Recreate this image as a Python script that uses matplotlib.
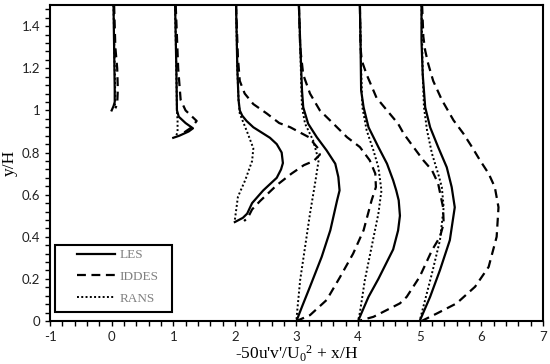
import matplotlib
matplotlib.use("Agg")
import matplotlib.pyplot as plt
from matplotlib.ticker import MultipleLocator, FuncFormatter
from matplotlib.patches import Rectangle

plt.rcParams['mathtext.fontset'] = 'custom'
plt.rcParams['mathtext.rm'] = 'Liberation Serif'
plt.rcParams['mathtext.it'] = 'Liberation Serif'

stations = [0, 1, 2, 3, 4, 5]

# LES profiles: y/H and -50u'v'/U0^2 per station
les_y = [
    [1.5, 1.3, 1.1, 1.04, 1.02, 1.0],
    [1.5, 1.2, 1.0, 0.97, 0.94, 0.915, 0.90, 0.88, 0.87],
    [1.5, 1.2, 1.05, 1.0, 0.975, 0.95, 0.92, 0.87, 0.84, 0.80, 0.75, 0.72, 0.68, 0.62, 0.56, 0.51, 0.49, 0.47],
    [1.5, 1.33, 1.095, 1.015, 0.937, 0.873, 0.81, 0.747, 0.684, 0.62, 0.573, 0.431, 0.305, 0.163, 0.068, 0.0],
    [1.5, 1.33, 1.095, 1.015, 0.92, 0.826, 0.747, 0.668, 0.62, 0.573, 0.50, 0.43, 0.34, 0.20, 0.115, 0.0],
    [1.5, 1.33, 1.17, 1.015, 0.92, 0.826, 0.73, 0.636, 0.54, 0.384, 0.242, 0.115, 0.02, 0.0],
]
les_v = [
    [0.03, 0.04, 0.05, 0.05, 0.03, 0.0],
    [0.03, 0.05, 0.06, 0.09, 0.2, 0.32, 0.25, 0.1, 0.0],
    [0.02, 0.04, 0.06, 0.08, 0.12, 0.19, 0.30, 0.57, 0.68, 0.76, 0.78, 0.75, 0.68, 0.46, 0.28, 0.2, 0.13, 0.0],
    [0.04, 0.06, 0.09, 0.11, 0.19, 0.33, 0.49, 0.63, 0.68, 0.70, 0.66, 0.55, 0.41, 0.22, 0.09, 0.0],
    [0.03, 0.04, 0.05, 0.09, 0.17, 0.33, 0.47, 0.57, 0.62, 0.66, 0.68, 0.65, 0.57, 0.33, 0.17, 0.0],
    [0.03, 0.03, 0.05, 0.09, 0.17, 0.30, 0.44, 0.52, 0.57, 0.49, 0.33, 0.17, 0.03, 0.0],
]

iddes_y = [
    [1.5, 1.3, 1.2, 1.1, 1.03, 1.01],
    [1.5, 1.2, 1.05, 1.0, 0.95, 0.92, 0.89],
    [1.5, 1.25, 1.14, 1.08, 1.03, 0.985, 0.94, 0.92, 0.873, 0.82, 0.79, 0.76, 0.74, 0.70, 0.645, 0.57, 0.53, 0.49, 0.475],
    [1.5, 1.3, 1.17, 1.08, 1.0, 0.937, 0.873, 0.826, 0.763, 0.70, 0.636, 0.573, 0.431, 0.32, 0.21, 0.10, 0.028, 0.0],
    [1.5, 1.3, 1.237, 1.17, 1.06, 1.0, 0.937, 0.89, 0.826, 0.763, 0.716, 0.653, 0.54, 0.463, 0.40, 0.336, 0.21, 0.115, 0.084, 0.02, 0.0],
    [1.5, 1.35, 1.284, 1.22, 1.14, 1.05, 0.953, 0.89, 0.826, 0.763, 0.70, 0.636, 0.54, 0.40, 0.257, 0.163, 0.084, 0.036, 0.0],
]
iddes_v = [
    [0.04, 0.06, 0.09, 0.1, 0.09, 0.06],
    [0.04, 0.08, 0.12, 0.2, 0.38, 0.3, 0.15],
    [0.02, 0.05, 0.08, 0.16, 0.3, 0.52, 0.72, 0.90, 1.20, 1.35, 1.38, 1.28, 1.12, 0.92, 0.68, 0.41, 0.28, 0.21, 0.15],
    [0.04, 0.06, 0.11, 0.22, 0.38, 0.60, 0.82, 1.03, 1.19, 1.28, 1.29, 1.22, 1.09, 0.92, 0.71, 0.49, 0.22, 0.0],
    [0.03, 0.04, 0.06, 0.14, 0.30, 0.47, 0.65, 0.74, 0.90, 1.06, 1.20, 1.30, 1.38, 1.39, 1.33, 1.20, 1.0, 0.79, 0.68, 0.25, 0.0],
    [0.04, 0.06, 0.09, 0.14, 0.22, 0.36, 0.55, 0.71, 0.85, 0.98, 1.12, 1.22, 1.28, 1.25, 1.12, 0.90, 0.60, 0.28, 0.03],
]

rans_y = [
    [1.5, 1.2, 1.05, 1.02],
    [1.5, 1.2, 1.0, 0.95, 0.9, 0.88],
    [1.5, 1.2, 1.05, 0.985, 0.89, 0.82, 0.76, 0.67, 0.59, 0.48],
    [1.5, 1.33, 1.095, 1.015, 0.937, 0.858, 0.763, 0.668, 0.51, 0.352, 0.194, 0.04, 0.0],
    [1.5, 1.2, 1.015, 0.905, 0.81, 0.73, 0.62, 0.51, 0.352, 0.194, 0.04, 0.0],
    [1.5, 1.17, 1.015, 0.905, 0.795, 0.70, 0.636, 0.54, 0.384, 0.226, 0.068, 0.0],
]
rans_v = [
    [0.03, 0.05, 0.06, 0.05],
    [0.03, 0.05, 0.06, 0.07, 0.07, 0.05],
    [0.02, 0.04, 0.06, 0.08, 0.21, 0.3, 0.28, 0.17, 0.05, 0.0],
    [0.04, 0.06, 0.08, 0.09, 0.14, 0.27, 0.36, 0.31, 0.22, 0.14, 0.06, 0.01, 0.0],
    [0.03, 0.05, 0.07, 0.14, 0.25, 0.33, 0.38, 0.33, 0.22, 0.11, 0.03, 0.0],
    [0.03, 0.05, 0.07, 0.12, 0.20, 0.30, 0.36, 0.39, 0.33, 0.20, 0.06, 0.0],
]

legend_labels = ["LES", "IDDES", "RANS"]

fig = plt.figure(figsize=(5.5, 3.64), dpi=100)
ax = fig.add_axes([0.091, 0.118, 0.896, 0.868])

styles = [
    dict(color='black', lw=1.6, linestyle='-'),
    dict(color='black', lw=1.6, linestyle=(0, (4, 2.5))),
    dict(color='black', lw=1.4, linestyle=(0, (1, 1.2))),
]
for k, (ys, vs) in enumerate([(les_y, les_v), (iddes_y, iddes_v), (rans_y, rans_v)]):
    for i, st in enumerate(stations):
        ax.plot([st + v for v in vs[i]], ys[i],
                label=legend_labels[k] if i == 0 else None,
                solid_joinstyle='round', dash_joinstyle='round', **styles[k])

ax.set_xlim(-1, 7)
ax.set_ylim(0, 1.5)
ax.xaxis.set_major_locator(MultipleLocator(1))
ax.xaxis.set_minor_locator(MultipleLocator(0.2))
ax.yaxis.set_major_locator(MultipleLocator(0.2))
ax.yaxis.set_minor_locator(MultipleLocator(0.04))
ax.yaxis.set_major_formatter(FuncFormatter(lambda v, p: ('%g' % round(v, 2))))
ax.xaxis.set_major_formatter(FuncFormatter(lambda v, p: ('%g' % round(v, 2))))

for sp in ax.spines.values():
    sp.set_linewidth(1.5)
ax.tick_params(which='both', direction='out', width=1.0, length=3.5,
               labelsize=9.5, colors='black', labelcolor='#222222')
for lab in ax.get_xticklabels() + ax.get_yticklabels():
    lab.set_fontfamily('Lato')

ax.set_xlabel("-50u'v'/U$_0$$^2$ + x/H", fontsize=12.5, family='Liberation Serif', labelpad=1)
ax.set_ylabel("y/H", fontsize=12.5, family='Liberation Serif', labelpad=3)

# legend frame
ax.add_patch(Rectangle((0.010, 0.0285), 0.2375, 0.212, transform=ax.transAxes,
                       facecolor='white', edgecolor='black', lw=1.5, zorder=5))
leg = ax.legend(loc='upper left', bbox_to_anchor=(0.055, 0.228), frameon=False,
                handlelength=2.9, handletextpad=0.3, borderpad=0.0,
                borderaxespad=0.0, labelspacing=0.72,
                prop={'family': 'Liberation Serif', 'size': 9.5})
leg.set_zorder(6)
for t in leg.get_texts():
    t.set_color('#808080')

fig.savefig("out.png", dpi=100)
